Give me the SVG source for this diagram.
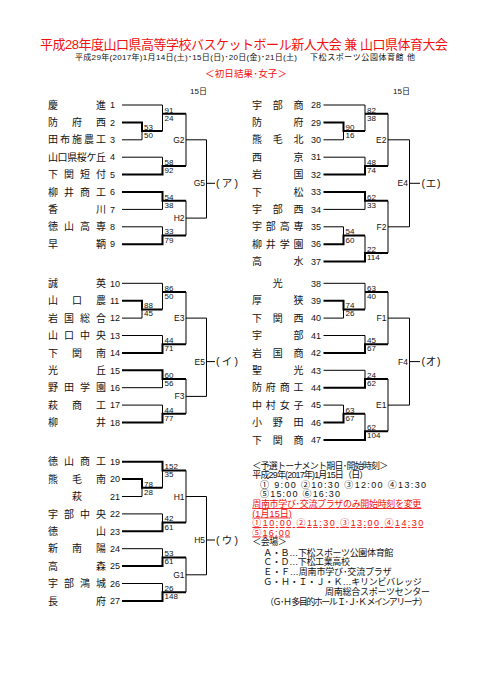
<svg xmlns="http://www.w3.org/2000/svg" width="481" height="680" viewBox="0 0 481 680">
<style>
text{font-family:"Liberation Sans","Noto Sans CJK JP",sans-serif;fill:#111}
.ttl{font-size:13px;fill:#f01010;text-anchor:middle}
.sub{font-size:8px}
.red{fill:#f01010}
.nm{font-size:10px;text-anchor:middle;font-family:"Noto Sans CJK JP",sans-serif}
.no{font-size:9px}
.sc{font-size:8px}
.lb{font-size:8.5px;text-anchor:end}
.fl{font-size:10.5px}
.info{font-size:9px}
.ul{text-decoration:underline}
.t{stroke:#000;stroke-width:1;fill:none}
.k{stroke:#000;stroke-width:2;fill:none}
</style>
<rect width="481" height="680" fill="#fff"/>
<g id="header">
<text class="ttl" x="244" y="49" textLength="408">平成28年度山口県高等学校バスケットボール新人大会 兼 山口県体育大会</text>
<text class="sub" x="75" y="59.5" textLength="222">平成29年(2017年)1月14日(土)･15日(日)･20日(金)･21日(土)</text>
<text class="sub" x="310" y="59.5" textLength="105">下松スポーツ公園体育館 他</text>
<text class="red" x="205" y="77" font-size="9.5" textLength="82">＜初日結果･女子＞</text>
<text class="sc" x="190" y="94">15日</text>
<text class="sc" x="393" y="94">15日</text>
</g>
<g id="connectors">
<path class="t" d="M122 105H162.5V131.1M122 139.8H142V131.1M122 157.2H162.5V165.9M186 113.7V165.9M186 139.8H206.5M122 209.4H162.5V200.7M122 226.8H162.5V235.5M186 200.7V235.5M186 218.1H206.5M206.5 139.8V218.1M206.5 183.3H215"/>
<path class="k" d="M122 122.4H142V131.1H162.5M162.5 113.7H186M122 174.6H162.5V165.9H186M122 192H162.5V200.7H186M122 244.2H162.5V235.5H186"/>
<path class="t" d="M122 283.3H162.5V309.4M122 318.1H142V309.4M122 335.5H162.5V344.2M186 292V344.2M186 318.1H206.5M122 387.7H162.5V379M122 405.1H162.5V413.8M186 379V413.8M186 396.4H206.5M206.5 318.1V396.4M206.5 361.6H215"/>
<path class="k" d="M122 300.7H142V309.4H162.5M162.5 292H186M122 352.9H162.5V344.2H186M122 370.3H162.5V379H186M122 422.5H162.5V413.8H186"/>
<path class="t" d="M162.5 470.4V487.8M122 496.5H142V487.8M122 513.9H162.5V522.6M186 470.4V522.6M186 496.5H206.5M122 548.7H162.5V557.4M122 583.5H162.5V592.2M186 557.4V592.2M186 574.8H206.5M206.5 496.5V574.8M206.5 540H215"/>
<path class="k" d="M122 461.7H162.5V470.4H186M122 479.1H142V487.8H162.5M122 531.3H162.5V522.6H186M122 566.1H162.5V557.4H186M122 600.9H162.5V592.2H186"/>
<path class="t" d="M323.5 105H365V131.1M323.5 139.8H343.5V131.1M323.5 157.2H365V165.9M388 113.7V165.9M388 139.8H409.5M323.5 209.4H365V200.7M323.5 226.8H343.5V235.5M365 235.5V252.9M388 200.7V252.9M388 226.8H409.5M409.5 139.8V226.8M409.5 183.3H420"/>
<path class="k" d="M323.5 122.4H343.5V131.1H365M365 113.7H388M323.5 174.6H365V165.9H388M323.5 192H365V200.7H388M323.5 244.2H343.5V235.5H365M323.5 261.6H365V252.9H388"/>
<path class="t" d="M323.5 283.3H365V309.4M323.5 318.1H343.5V309.4M323.5 335.5H365V344.2M388 292V344.2M388 318.1H409.5M323.5 370.3H365V379M323.5 405.1H343.5V413.8M365 413.8V431.2M388 379V431.2M388 405.1H409.5M409.5 318.1V405.1M409.5 361.6H420"/>
<path class="k" d="M323.5 300.7H343.5V309.4H365M365 292H388M323.5 352.9H365V344.2H388M323.5 387.7H365V379H388M323.5 422.5H343.5V413.8H365M323.5 439.9H365V431.2H388"/>
</g>
<g id="scores" class="sc">
<text x="144" y="129.9">53</text><text x="144" y="138.1">50</text>
<text x="164.5" y="112.5">91</text><text x="164.5" y="120.7">24</text>
<text x="164.5" y="164.7">58</text><text x="164.5" y="172.9">92</text>
<text x="164.5" y="199.5">54</text><text x="164.5" y="207.7">38</text>
<text x="164.5" y="234.3">33</text><text x="164.5" y="242.5">79</text>
<text x="144" y="308.2">88</text><text x="144" y="316.4">45</text>
<text x="164.5" y="290.8">86</text><text x="164.5" y="299">50</text>
<text x="164.5" y="343">44</text><text x="164.5" y="351.2">71</text>
<text x="164.5" y="377.8">60</text><text x="164.5" y="386">56</text>
<text x="164.5" y="412.6">44</text><text x="164.5" y="420.8">77</text>
<text x="144" y="486.6">78</text><text x="144" y="494.8">28</text>
<text x="164.5" y="469.2">152</text><text x="164.5" y="477.4">35</text>
<text x="164.5" y="521.4">42</text><text x="164.5" y="529.6">61</text>
<text x="164.5" y="556.2">53</text><text x="164.5" y="564.4">61</text>
<text x="164.5" y="591">26</text><text x="164.5" y="599.2">148</text>
<text x="345.5" y="129.9">90</text><text x="345.5" y="138.1">16</text>
<text x="367" y="112.5">82</text><text x="367" y="120.7">38</text>
<text x="367" y="164.7">48</text><text x="367" y="172.9">74</text>
<text x="367" y="199.5">62</text><text x="367" y="207.7">33</text>
<text x="345.5" y="234.3">54</text><text x="345.5" y="242.5">60</text>
<text x="367" y="251.7">22</text><text x="367" y="259.9">114</text>
<text x="345.5" y="308.2">74</text><text x="345.5" y="316.4">26</text>
<text x="367" y="290.8">63</text><text x="367" y="299">40</text>
<text x="367" y="343">45</text><text x="367" y="351.2">67</text>
<text x="367" y="377.8">24</text><text x="367" y="386">62</text>
<text x="345.5" y="412.6">63</text><text x="345.5" y="420.8">67</text>
<text x="367" y="430">62</text><text x="367" y="438.2">104</text>
</g>
<g id="match-labels" class="lb">
<text x="184.5" y="142.8">G2</text><text x="184.5" y="221.1">H2</text><text x="205" y="186.3">G5</text>
<text x="184.5" y="321.1">E3</text><text x="184.5" y="399.4">F3</text><text x="205" y="364.6">E5</text>
<text x="184.5" y="499.5">H1</text><text x="184.5" y="577.8">G1</text><text x="205" y="543">H5</text>
<text x="386.5" y="142.8">E2</text><text x="386.5" y="229.8">F2</text><text x="408" y="186.3">E4</text>
<text x="386.5" y="321.1">F1</text><text x="386.5" y="408.1">E1</text><text x="408" y="364.6">F4</text>
</g>
<g id="block-labels" class="fl">
<text x="216" y="187" textLength="22">(ア)</text>
<text x="216" y="365.4" textLength="22">(イ)</text>
<text x="216" y="543.8" textLength="22">(ウ)</text>
<text x="421.5" y="187" textLength="19">(エ)</text>
<text x="421.5" y="365.4" textLength="19">(オ)</text>
</g>
<g id="t1"><text class="nm" x="53 101" y="108.6">慶進</text><text class="no" x="110" y="108.2">1</text></g>
<g id="t2"><text class="nm" x="53 77 101" y="126">防府西</text><text class="no" x="110" y="125.6">2</text></g>
<g id="t3"><text class="nm" x="53 65 77 89 101" y="143.4">田布施農工</text><text class="no" x="110" y="143">3</text></g>
<g id="t4"><text class="nm" x="53 62.6 72.2 81.8 91.4 101" y="160.8">山口県桜ケ丘</text><text class="no" x="110" y="160.4">4</text></g>
<g id="t5"><text class="nm" x="53 69 85 101" y="178.2">下関短付</text><text class="no" x="110" y="177.8">5</text></g>
<g id="t6"><text class="nm" x="53 69 85 101" y="195.6">柳井商工</text><text class="no" x="110" y="195.2">6</text></g>
<g id="t7"><text class="nm" x="53 101" y="213">香川</text><text class="no" x="110" y="212.6">7</text></g>
<g id="t8"><text class="nm" x="53 69 85 101" y="230.4">徳山高専</text><text class="no" x="110" y="230">8</text></g>
<g id="t9"><text class="nm" x="53 101" y="247.8">早鞆</text><text class="no" x="110" y="247.4">9</text></g>
<g id="t10"><text class="nm" x="53 101" y="286.9">誠英</text><text class="no" x="110" y="286.5">10</text></g>
<g id="t11"><text class="nm" x="53 77 101" y="304.3">山口農</text><text class="no" x="110" y="303.9">11</text></g>
<g id="t12"><text class="nm" x="53 69 85 101" y="321.7">岩国総合</text><text class="no" x="110" y="321.3">12</text></g>
<g id="t13"><text class="nm" x="53 69 85 101" y="339.1">山口中央</text><text class="no" x="110" y="338.7">13</text></g>
<g id="t14"><text class="nm" x="53 77 101" y="356.5">下関南</text><text class="no" x="110" y="356.1">14</text></g>
<g id="t15"><text class="nm" x="53 101" y="373.9">光丘</text><text class="no" x="110" y="373.5">15</text></g>
<g id="t16"><text class="nm" x="53 69 85 101" y="391.3">野田学園</text><text class="no" x="110" y="390.9">16</text></g>
<g id="t17"><text class="nm" x="53 77 101" y="408.7">萩商工</text><text class="no" x="110" y="408.3">17</text></g>
<g id="t18"><text class="nm" x="53 101" y="426.1">柳井</text><text class="no" x="110" y="425.7">18</text></g>
<g id="t19"><text class="nm" x="53 69 85 101" y="465.3">徳山商工</text><text class="no" x="110" y="464.9">19</text></g>
<g id="t20"><text class="nm" x="53 77 101" y="482.7">熊毛南</text><text class="no" x="110" y="482.3">20</text></g>
<g id="t21"><text class="nm" x="77" y="500.1">萩</text><text class="no" x="110" y="499.7">21</text></g>
<g id="t22"><text class="nm" x="53 69 85 101" y="517.5">宇部中央</text><text class="no" x="110" y="517.1">22</text></g>
<g id="t23"><text class="nm" x="53 101" y="534.9">徳山</text><text class="no" x="110" y="534.5">23</text></g>
<g id="t24"><text class="nm" x="53 77 101" y="552.3">新南陽</text><text class="no" x="110" y="551.9">24</text></g>
<g id="t25"><text class="nm" x="53 101" y="569.7">高森</text><text class="no" x="110" y="569.3">25</text></g>
<g id="t26"><text class="nm" x="53 69 85 101" y="587.1">宇部鴻城</text><text class="no" x="110" y="586.7">26</text></g>
<g id="t27"><text class="nm" x="53 101" y="604.5">長府</text><text class="no" x="110" y="604.1">27</text></g>
<g id="t28"><text class="nm" x="257 277.8 298.5" y="108.6">宇部商</text><text class="no" x="311" y="108.2">28</text></g>
<g id="t29"><text class="nm" x="257 298.5" y="126">防府</text><text class="no" x="311" y="125.6">29</text></g>
<g id="t30"><text class="nm" x="257 277.8 298.5" y="143.4">熊毛北</text><text class="no" x="311" y="143">30</text></g>
<g id="t31"><text class="nm" x="257 298.5" y="160.8">西京</text><text class="no" x="311" y="160.4">31</text></g>
<g id="t32"><text class="nm" x="257 298.5" y="178.2">岩国</text><text class="no" x="311" y="177.8">32</text></g>
<g id="t33"><text class="nm" x="257 298.5" y="195.6">下松</text><text class="no" x="311" y="195.2">33</text></g>
<g id="t34"><text class="nm" x="257 277.8 298.5" y="213">宇部西</text><text class="no" x="311" y="212.6">34</text></g>
<g id="t35"><text class="nm" x="257 270.8 284.7 298.5" y="230.4">宇部高専</text><text class="no" x="311" y="230">35</text></g>
<g id="t36"><text class="nm" x="257 270.8 284.7 298.5" y="247.8">柳井学園</text><text class="no" x="311" y="247.4">36</text></g>
<g id="t37"><text class="nm" x="257 298.5" y="265.2">高水</text><text class="no" x="311" y="264.8">37</text></g>
<g id="t38"><text class="nm" x="277.8" y="286.9">光</text><text class="no" x="311" y="286.5">38</text></g>
<g id="t39"><text class="nm" x="257 298.5" y="304.3">厚狭</text><text class="no" x="311" y="303.9">39</text></g>
<g id="t40"><text class="nm" x="257 277.8 298.5" y="321.7">下関西</text><text class="no" x="311" y="321.3">40</text></g>
<g id="t41"><text class="nm" x="257 298.5" y="339.1">宇部</text><text class="no" x="311" y="338.7">41</text></g>
<g id="t42"><text class="nm" x="257 277.8 298.5" y="356.5">岩国商</text><text class="no" x="311" y="356.1">42</text></g>
<g id="t43"><text class="nm" x="257 298.5" y="373.9">聖光</text><text class="no" x="311" y="373.5">43</text></g>
<g id="t44"><text class="nm" x="257 270.8 284.7 298.5" y="391.3">防府商工</text><text class="no" x="311" y="390.9">44</text></g>
<g id="t45"><text class="nm" x="257 270.8 284.7 298.5" y="408.7">中村女子</text><text class="no" x="311" y="408.3">45</text></g>
<g id="t46"><text class="nm" x="257 277.8 298.5" y="426.1">小野田</text><text class="no" x="311" y="425.7">46</text></g>
<g id="t47"><text class="nm" x="257 277.8 298.5" y="443.5">下関商</text><text class="no" x="311" y="443.1">47</text></g>
<g id="notes" class="info">
<text x="252.3" y="468.5" textLength="136">＜予選トーナメント期日･開始時刻＞</text>
<text x="252.3" y="477.8" textLength="116">平成29年(2017年)1月15日（日）</text>
<text x="260" y="487.6" textLength="166">① 9:00 ②10:30 ③12:00 ④13:30</text>
<text x="260" y="497.2" textLength="80">⑤15:00 ⑥16:30</text>
<text class="red ul" x="252.3" y="507" textLength="169">周南市学び･交流プラザのみ開始時刻を変更</text>
<text class="red ul" x="252.3" y="516.5" textLength="39.5">(1月15日)</text>
<text class="red ul" x="252.3" y="526" textLength="171">①10:00 ②11:30 ③13:00 ④14:30</text>
<text class="red ul" x="252.3" y="535.5" textLength="37.7">⑤16:00</text>
<text x="252.3" y="545.2" textLength="34.4">＜会場＞</text>
<text x="263.3" y="555.8" textLength="130">Ａ・Ｂ…下松スポーツ公園体育館</text>
<text x="263.3" y="565.3" textLength="86.7">Ｃ・Ｄ…下松工業高校</text>
<text x="263.3" y="575.2" textLength="128.4">Ｅ・Ｆ…周南市学び･交流プラザ</text>
<text x="263.3" y="585.2" textLength="158.4">Ｇ・Ｈ・Ｉ・Ｊ・Ｋ…キリンビバレッジ</text>
<text x="325" y="595.2" textLength="105">周南総合スポーツセンター</text>
<text x="265" y="605.2" textLength="162.7">（Ｇ･Ｈ 多目的ホール Ｉ･Ｊ･Ｋ メインアリーナ）</text>
</g>
</svg>
